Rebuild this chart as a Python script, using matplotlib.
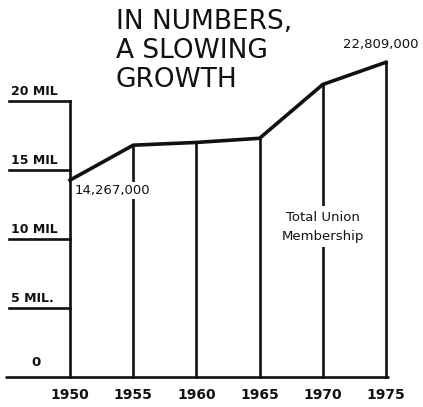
import matplotlib.pyplot as plt

years = [1950, 1955, 1960, 1965, 1970, 1975]
members = [14.267, 16.8, 17.0, 17.3, 21.2, 22.809]  # millions
year_labels = ['1950', '1955', '1960', '1965', '1970', '1975']
tick_vals = [0, 5, 10, 15, 20]
tick_labels = ['0', '5 MIL.', '10 MIL', '15 MIL', '20 MIL']

lw = 1.9
ink = '#111111'

fig = plt.figure(figsize=(4.23, 4.07), dpi=100)
ax = fig.add_axes([0, 0, 1, 1])
ax.set_xlim(1944.46, 1977.93)
ax.set_ylim(-2.17, 27.32)
ax.axis('off')

# baseline
ax.plot([1944.9, 1975.2], [0, 0], color=ink, lw=lw, solid_capstyle='round')
# tick lines with labels sitting on them
for v, lab in zip(tick_vals[1:], tick_labels[1:]):
    ax.plot([1945.2, 1950], [v, v], color=ink, lw=lw)
    ax.text(1945.3, v + 0.25, lab, fontsize=9, fontweight='bold', color=ink,
            ha='left', va='bottom')
ax.text(1947.3, 0.6, tick_labels[0], fontsize=9.5, fontweight='bold', color=ink,
        ha='center', va='bottom')

# drop lines
for x, y in zip(years[1:], members[1:]):
    ax.plot([x, x], [0, y], color=ink, lw=lw)

# annotations (white boxes break the drop lines like the hand drawing)
ax.text(1950.35, 13.5, '14,267,000', fontsize=9.5, color=ink, ha='left', va='center',
        bbox=dict(facecolor='white', edgecolor='none', pad=1.5))
ax.text(1977.6, 24.1, '22,809,000', fontsize=9.5, color=ink, ha='right', va='center')
ax.text(1970, 10.9, 'Total Union\nMembership', fontsize=9.5, color=ink,
        ha='center', va='center', linespacing=1.6,
        bbox=dict(facecolor='white', edgecolor='none', pad=3))

# left axis up to 20 MIL, drawn over the label box
ax.plot([1950, 1950], [0, 20], color=ink, lw=lw, zorder=5)
# membership line
ax.plot(years, members, color=ink, lw=lw + 0.7, solid_joinstyle='round', zorder=6)

for x, lab in zip(years, year_labels):
    ax.text(x, -1.3, lab, fontsize=10, fontweight='bold', color=ink,
            ha='center', va='center')

ax.text(1953.6, 26.7, 'IN NUMBERS,\nA SLOWING\nGROWTH', fontsize=19, color=ink,
        ha='left', va='top', linespacing=1.15)

fig.savefig('out.png', dpi=100, facecolor='white')
